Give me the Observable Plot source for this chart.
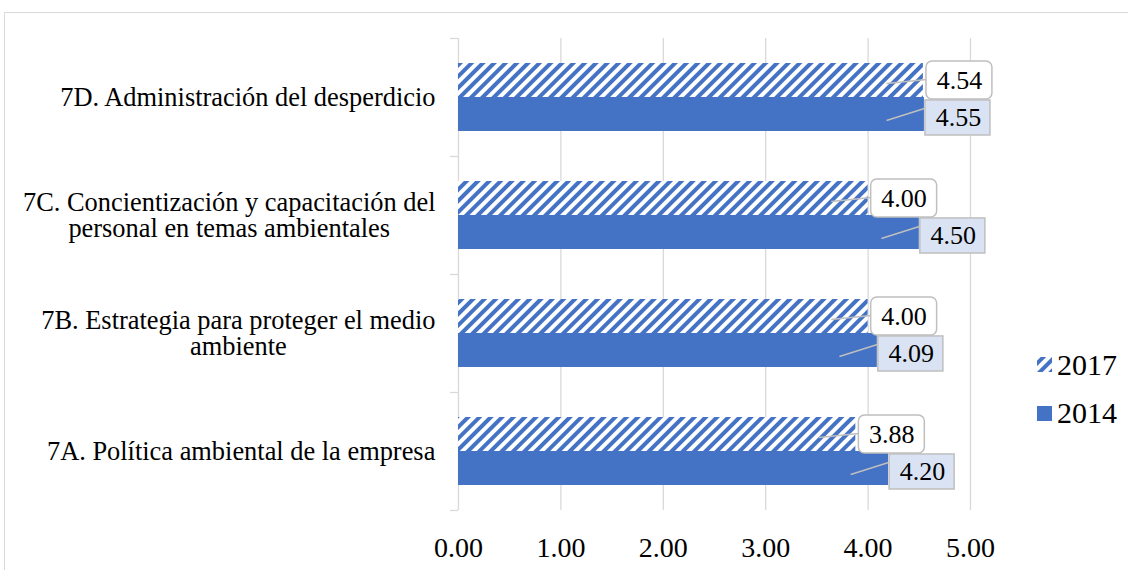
<!DOCTYPE html>
<html><head><meta charset="utf-8">
<script src="https://cdn.jsdelivr.net/npm/d3@7"></script>
<script src="https://cdn.jsdelivr.net/npm/@observablehq/plot@0.6"></script>
<style>
html,body{margin:0;padding:0;background:#fff;width:1128px;height:570px;overflow:hidden;}
#wrap{position:relative;width:1128px;height:570px;}
#frame{position:absolute;left:4px;top:12px;width:1140px;height:580px;border:1px solid #d9d9d9;box-sizing:border-box;}
#chart{position:absolute;left:0;top:0;}
#legend{position:absolute;left:1030px;top:345px;font-family:'Liberation Serif','Times New Roman',serif;}
</style></head><body>
<div id="wrap">
<div id="frame"></div>
<div id="chart"></div>
<svg id="legend" width="98" height="90">
  <defs>
    <pattern id="hatch2017" patternUnits="userSpaceOnUse" width="8" height="8" patternTransform="rotate(45)">
      <rect width="8" height="8" fill="#fff"/><rect width="4" height="8" fill="#4472C4"/>
    </pattern>
  </defs>
  <rect x="7" y="12" width="15" height="15" fill="url(#hatch2017)"/>
  <text x="27" y="30" font-size="30" fill="#000">2017</text>
  <rect x="7" y="61" width="15" height="15" fill="#4472C4"/>
  <text x="27" y="78" font-size="30" fill="#000">2014</text>
</svg>
</div>
<script>
const categories = [
  "7D. Administración del desperdicio",
  "7C. Concientización y capacitación del\npersonal en temas ambientales",
  "7B. Estrategia para proteger el medio\nambiente",
  "7A. Política ambiental de la empresa"
];
const seriesNames = ["2017", "2014"];
const values2017 = [4.54, 4.00, 4.00, 3.88];
const values2014 = [4.55, 4.50, 4.09, 4.20];
const xTicks = [0, 1, 2, 3, 4, 5];

const rows = categories.map((c, i) => ({i, cat: c, v2017: values2017[i], v2014: values2014[i]}));
const blue = "#4472C4";
const fmt = d3.format(".2f");
const grey = "#bfbfbf";

const plot = Plot.plot({
  width: 1128, height: 570,
  marginTop: 38, marginBottom: 60, marginLeft: 458, marginRight: 158,
  style: {fontFamily: "'Liberation Serif','Times New Roman',serif", fontSize: "26px", color: "#000", background: "transparent", overflow: "visible"},
  x: {domain: [0, 5]},
  y: {domain: [0, 4], reverse: true},
  marks: [
    Plot.gridX(xTicks, {stroke: "#d9d9d9", strokeOpacity: 1, strokeWidth: 1.3}),
    Plot.axisY([0, 1, 2, 3, 4], {tickSize: 8, tickFormat: () => "", stroke: "#d9d9d9", strokeOpacity: 1, strokeWidth: 1.3}),
    Plot.axisY(rows.map(d => d.i + 0.5), {tickSize: 0, tickPadding: 23, tickFormat: d => categories[Math.floor(d)], fontSize: 26.4, lineHeight: 0.985, fill: "#000"}),
    Plot.axisX(xTicks, {tickSize: 0, tickPadding: 27, tickFormat: fmt, fontSize: 28, fill: "#000"}),
    Plot.rect(rows, {x1: 0, x2: "v2017", y1: d => d.i + 0.212, y2: d => d.i + 0.5, fill: "url(#hatch2017)"}),
    Plot.rect(rows, {x1: 0, x2: "v2014", y1: d => d.i + 0.5, y2: d => d.i + 0.788, fill: blue}),
    Plot.link(rows, {x1: d => d.v2017 - 0.36, x2: d => d.v2017 + 0.03, y1: d => d.i + 0.381, y2: d => d.i + 0.347, stroke: grey, strokeWidth: 1.5}),
    Plot.link(rows, {x1: d => d.v2014 - 0.37, x2: d => d.v2014, y1: d => d.i + 0.695, y2: d => d.i + 0.593, stroke: grey, strokeWidth: 1.5}),
    Plot.rect(rows, {x1: d => d.v2017 + 0.03, x2: d => d.v2017 + 0.674, y1: d => d.i + 0.195, y2: d => d.i + 0.517, fill: "#fff", stroke: grey, strokeWidth: 1.5, rx: 6}),
    Plot.rect(rows, {x1: d => d.v2014 + 0.01, x2: d => d.v2014 + 0.645, y1: d => d.i + 0.525, y2: d => d.i + 0.822, fill: "#dae3f3", stroke: grey, strokeWidth: 1.5}),
    Plot.text(rows, {x: "v2017", y: d => d.i + 0.356, text: d => fmt(d.v2017), dx: 36, fontSize: 26, fill: "#000"}),
    Plot.text(rows, {x: "v2014", y: d => d.i + 0.674, text: d => fmt(d.v2014), dx: 34, fontSize: 26, fill: "#000"})
  ]
});
document.getElementById("chart").append(plot);

// center multi-line category labels within their block (right edge kept)
plot.querySelectorAll('g[aria-label="y-axis tick label"] text').forEach(t => {
  const w = t.getBBox().width;
  if (!w) return;
  t.setAttribute("text-anchor", "middle");
  const tr = t.getAttribute("transform") || "";
  t.setAttribute("transform", tr + ` translate(${-w / 2},0)`);
});
</script>
</body></html>
